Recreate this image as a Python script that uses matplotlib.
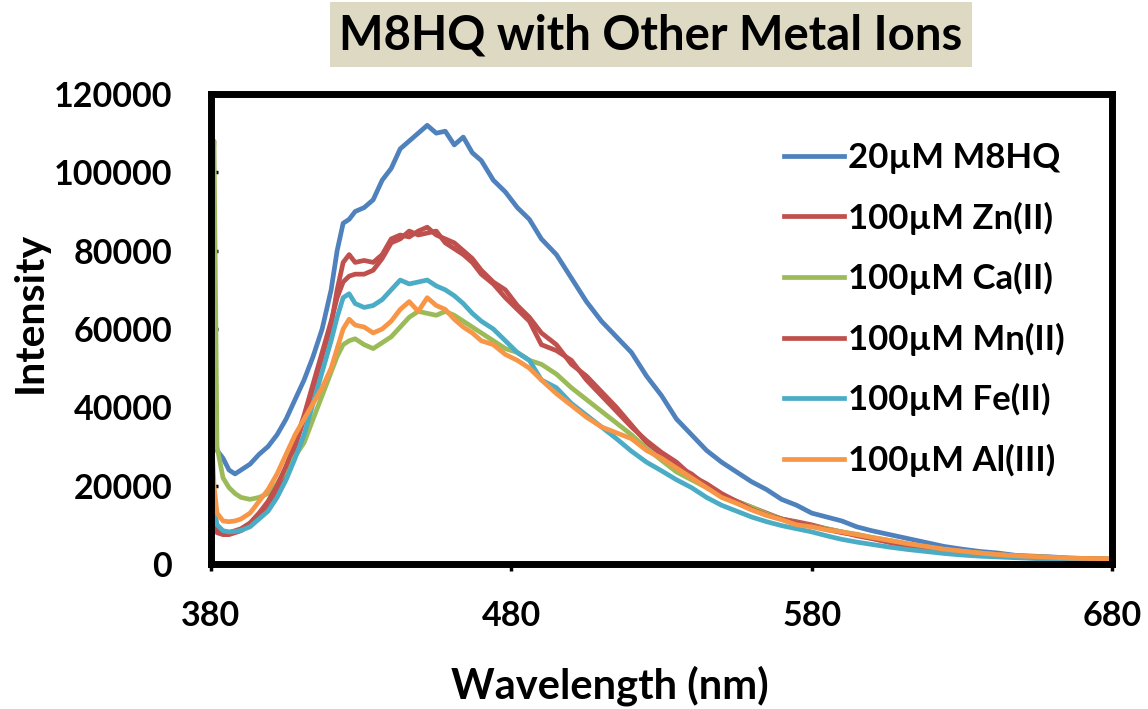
import matplotlib
matplotlib.use("Agg")
import matplotlib.pyplot as plt
from matplotlib.patches import Rectangle

plt.rcParams['font.family'] = ['Lato', 'DejaVu Sans']
plt.rcParams['font.weight'] = 'bold'

wavelength = [380, 381, 382, 384, 386, 388, 390, 393, 396, 399, 402, 405, 408, 411, 414, 417, 420,
              422, 424, 426, 428, 431, 434, 437, 440, 443, 446, 449, 452, 455, 458, 461, 464, 467, 470,
              474, 478, 482, 486, 490, 495, 500, 505, 510, 515, 520, 525, 530, 535, 540, 545, 550,
              555, 560, 565, 570, 575, 580, 585, 590, 595, 600, 606, 612, 618, 624, 630, 636, 642,
              648, 654, 660, 666, 672, 680]

# intensities in thousands
m8hq = [37, 33, 29, 27, 24, 23, 24, 25.5, 28, 30, 33, 37, 42, 47, 53, 60, 70,
        80, 87, 88, 90, 91, 93, 98, 101, 106, 108, 110, 112, 110, 110.5, 107, 109, 105, 103,
        98, 95, 91, 88, 83, 79, 73, 67, 62, 58, 54, 48, 43, 37, 33, 29, 26,
        23.5, 21, 19, 16.5, 15, 13, 12, 11, 9.5, 8.5, 7.5, 6.5, 5.5, 4.5, 3.8, 3.2, 2.8,
        2.2, 2.0, 1.8, 1.5, 1.4, 1.2]
zn = [11, 9, 8, 7.5, 7.5, 8, 8.5, 10, 12.5, 15, 19, 24, 30, 37, 45, 53, 61,
      70, 77, 79, 77, 77.5, 77, 79, 83, 84, 83.5, 85, 86, 84, 83, 82, 80, 78, 75,
      72, 70, 66, 63, 59, 56, 51, 48, 44, 40, 35.5, 31, 28, 25, 23, 20, 17.5,
      16, 14.5, 13, 11.5, 10.8, 10, 9, 8.2, 7.2, 6.5, 5.5, 4.6, 4.0, 3.4, 2.9, 2.5, 2.2,
      1.9, 1.7, 1.5, 1.3, 1.2, 1.0]
ca = [95, 108, 30, 22, 19.5, 18, 17, 16.5, 17, 18, 20.5, 24, 27.5, 31, 37, 43, 49,
      53, 56, 57, 57.5, 56, 55, 56.5, 58, 60.5, 63, 64.5, 64, 63.5, 64.5, 63.5, 62, 60.5, 59,
      57, 55, 54, 52, 51, 48.5, 45, 42, 39, 36, 33, 29.5, 26.5, 23.5, 21.5, 19.5, 17.5,
      16, 14.5, 12.8, 11.5, 10.5, 9.7, 9, 8.2, 7.6, 6.8, 6.0, 5.1, 4.4, 3.7, 3.2, 2.8, 2.4,
      2.1, 1.9, 1.7, 1.5, 1.4, 1.3]
mn = [12, 9.5, 8.5, 8, 8, 8.5, 9, 10.5, 13, 16, 20, 25, 31, 38, 46, 54, 62,
      68, 72, 73.5, 74, 74, 75, 78, 82, 83, 85, 84, 84.5, 85, 82, 80.5, 79, 77, 74,
      71.5, 68, 65, 62, 56, 54.5, 52, 47, 43, 39, 35, 31.5, 28.5, 26, 22.5, 20.5, 18,
      16, 14, 12.5, 11.5, 10.5, 9.7, 8.8, 8.0, 7.4, 6.6, 5.6, 4.8, 4.1, 3.5, 3.0, 2.6, 2.3,
      2.0, 1.8, 1.6, 1.4, 1.3, 1.2]
fe = [28, 15, 10, 8.5, 8.2, 8.3, 8.6, 9.5, 11.5, 13.5, 17, 21.5, 27, 33, 41, 49, 57,
      63, 68, 69, 66.5, 65.5, 66, 67.5, 70, 72.5, 71.5, 72, 72.5, 71, 70, 68.5, 66.5, 64, 62,
      60, 57, 54, 52, 47, 45, 41, 38, 35, 32, 28.8, 26, 23.8, 21.5, 19.5, 17, 15,
      13.5, 12, 10.8, 9.8, 9, 8.2, 7.2, 6.3, 5.6, 5.0, 4.3, 3.7, 3.2, 2.7, 2.3, 2.0, 1.8,
      1.6, 1.4, 1.2, 1.1, 1.0, 0.9]
al = [36, 20, 13, 11, 10.8, 11, 11.5, 13, 16, 19, 23, 28, 33, 37, 41, 45, 50,
      55, 60, 62.5, 61, 60.5, 59, 60, 62, 65, 67, 64.5, 68, 66, 65, 62.5, 60.5, 59, 57,
      56, 53.5, 52, 50, 47, 43.5, 40.5, 37.5, 35, 33.5, 32, 29, 27, 24.5, 22, 19.5, 17,
      15.5, 13.8, 12.4, 11.3, 10, 9.5, 8.7, 8.2, 7.5, 6.8, 6.0, 5.2, 4.5, 3.8, 3.3, 2.8, 2.4,
      2.1, 1.9, 1.7, 1.5, 1.4, 1.3]

series = [m8hq, zn, ca, mn, fe, al]
labels = ['20µM M8HQ', '100µM Zn(II)', '100µM Ca(II)', '100µM Mn(II)', '100µM Fe(II)', '100µM Al(III)']
colors = ['#4F81BD', '#C0504D', '#9BBB59', '#C0504D', '#4BACC6', '#F79646']
xticks = [380, 480, 580, 680]
yticks = [0, 20000, 40000, 60000, 80000, 100000, 120000]

W, H = 1148, 709
fig = plt.figure(figsize=(W / 100, H / 100), dpi=100)
ax = fig.add_axes([211 / W, 1 - 564 / H, (1112 - 211) / W, (564 - 94) / H])

for s, lab, c in zip(series, labels, colors):
    ax.plot(wavelength, [v * 1000 for v in s], color=c, lw=3.4, label=lab, solid_joinstyle='round')

ax.set_xlim(380, 680)
ax.set_ylim(0, 120000)
ax.set_xticks(xticks)
ax.set_yticks(yticks)
ax.set_xticklabels([str(t) for t in xticks])
ax.set_yticklabels([str(t) for t in yticks])
for sp in ax.spines.values():
    sp.set_linewidth(5)
ax.tick_params(axis='y', direction='in', length=5, width=2.5, labelsize=24.5, pad=28)
ax.tick_params(axis='x', direction='out', length=5, width=2.5, labelsize=24.5, pad=21)

ax.set_xlabel('Wavelength (nm)', fontsize=30, fontweight='bold')
ax.xaxis.set_label_coords((610 - 211) / (1112 - 211), -(699 - 564) / (564 - 94))
ax.xaxis.label.set_va('baseline')
ax.set_ylabel('Intensity', fontsize=29.5, fontweight='bold')
ax.yaxis.set_label_coords(-(211 - 12) / (1112 - 211), (564 - 312) / (564 - 94))
ax.yaxis.label.set_va('top')

leg = ax.legend(loc='upper left', bbox_to_anchor=(784 / W, 1 - 142 / H), bbox_transform=fig.transFigure,
                frameon=False, fontsize=25, handlelength=1.72, handletextpad=0.12,
                labelspacing=0.79, borderpad=0, borderaxespad=0)
for t in leg.get_texts():
    t.set_fontweight('bold')

fig.patches.append(Rectangle((330 / W, 1 - 67 / H), 642 / W, 65 / H, transform=fig.transFigure,
                             facecolor='#DDD9C3', edgecolor='none', zorder=0))
fig.text(651 / W, 1 - 35 / H, 'M8HQ with Other Metal Ions', ha='center', va='center',
         fontsize=34, fontweight='bold')

fig.savefig('out.png', dpi=100)
